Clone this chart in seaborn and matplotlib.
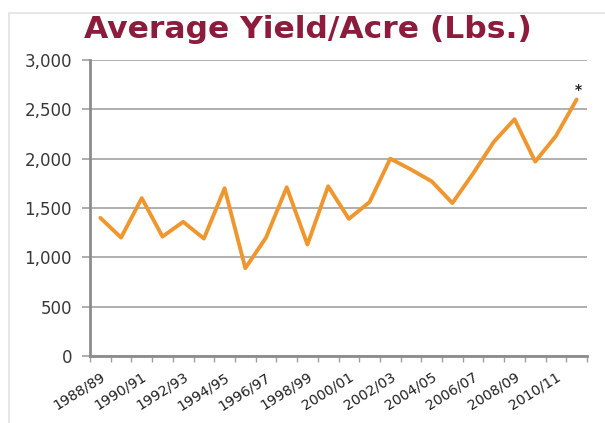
import matplotlib
matplotlib.use("Agg")
import matplotlib.pyplot as plt
from matplotlib.patches import Rectangle
from matplotlib.ticker import FixedLocator, FuncFormatter
import seaborn as sns
import pandas as pd

# Crop years and average yield per acre (lbs.)
seasons = [
    "1988/89", "1989/90", "1990/91", "1991/92", "1992/93", "1993/94",
    "1994/95", "1995/96", "1996/97", "1997/98", "1998/99", "1999/00",
    "2000/01", "2001/02", "2002/03", "2003/04", "2004/05", "2005/06",
    "2006/07", "2007/08", "2008/09", "2009/10", "2010/11", "2011/12",
]
yield_lbs = [
    1400, 1200, 1600, 1210, 1360, 1190,
    1700, 890, 1200, 1710, 1130, 1720,
    1390, 1560, 2000, 1890, 1770, 1550,
    1850, 2170, 2400, 1970, 2230, 2600,
]
y_ticks = [0, 500, 1000, 1500, 2000, 2500, 3000]
title = "Average Yield/Acre (Lbs.)"

df = pd.DataFrame({"season": seasons, "yield": yield_lbs})
df["pos"] = range(len(seasons))

sns.set_style("white")
plt.rcParams["font.family"] = ["DejaVu Sans"]

fig = plt.figure(figsize=(6.05, 4.23), dpi=100)
ax = fig.add_axes([90 / 605, 1 - 356 / 423, 497 / 605, 296 / 423])

# light frame around the chart panel
fig.patches.append(Rectangle((9 / 605, -0.1), 1.2, 1 - 13 / 423 + 0.1,
                             transform=fig.transFigure, fill=False,
                             edgecolor="#e2e2e2", linewidth=1.2, zorder=0))

sns.lineplot(data=df, x="pos", y="yield", ax=ax, color="#f0962f",
             linewidth=2.8, zorder=3)

ax.set_xlim(-0.5, len(seasons) - 0.5)
ax.set_ylim(0, 3000)
ax.set_yticks(y_ticks)
ax.yaxis.set_major_formatter(FuncFormatter(lambda v, _: f"{int(v):,}"))
ax.grid(axis="y", color="#a9a9a9", linewidth=1.3)
ax.grid(axis="x", visible=False)
ax.set_axisbelow(True)

for side in ("top", "right"):
    ax.spines[side].set_visible(False)
for side in ("left", "bottom"):
    ax.spines[side].set_color("#8c8c8c")
    ax.spines[side].set_linewidth(2)

# tick marks on category boundaries, labels on every other season
label_pos = list(range(0, len(seasons), 2))
ax.xaxis.set_major_locator(FixedLocator(label_pos))
ax.set_xticklabels([seasons[i] for i in label_pos], rotation=32, ha="right",
                   rotation_mode="anchor", fontsize=10.2, color="#222222")
ax.xaxis.set_minor_locator(FixedLocator([i - 0.5 for i in range(len(seasons) + 1)]))
ax.tick_params(axis="x", which="major", length=0, pad=10)
ax.tick_params(axis="x", which="minor", length=4, width=1, color="#a0a0a0",
               bottom=True, direction="out")
ax.tick_params(axis="y", which="major", length=6, width=1.2, color="#a0a0a0",
               left=True, labelsize=12, labelcolor="#383838", pad=7)

ax.set_xlabel("")
ax.set_ylabel("")

# asterisk marking the latest season
ax.annotate("*", xy=(len(seasons) - 1, yield_lbs[-1]), xytext=(1, 2),
            textcoords="offset points", ha="center", va="bottom",
            fontsize=10, fontweight="bold", color="#222222")

fig.text(308 / 605, 1 - 29 / 423, title, ha="center", va="center",
         fontsize=22.6, fontweight="bold", color="#8c1b3c")

# tail of the heading line above the panel
fig.text(177 / 605, 1 + 8 / 423, "g", ha="center", va="baseline",
         fontsize=22, fontweight="bold", color="#111111")

fig.savefig("out.png", dpi=100)
